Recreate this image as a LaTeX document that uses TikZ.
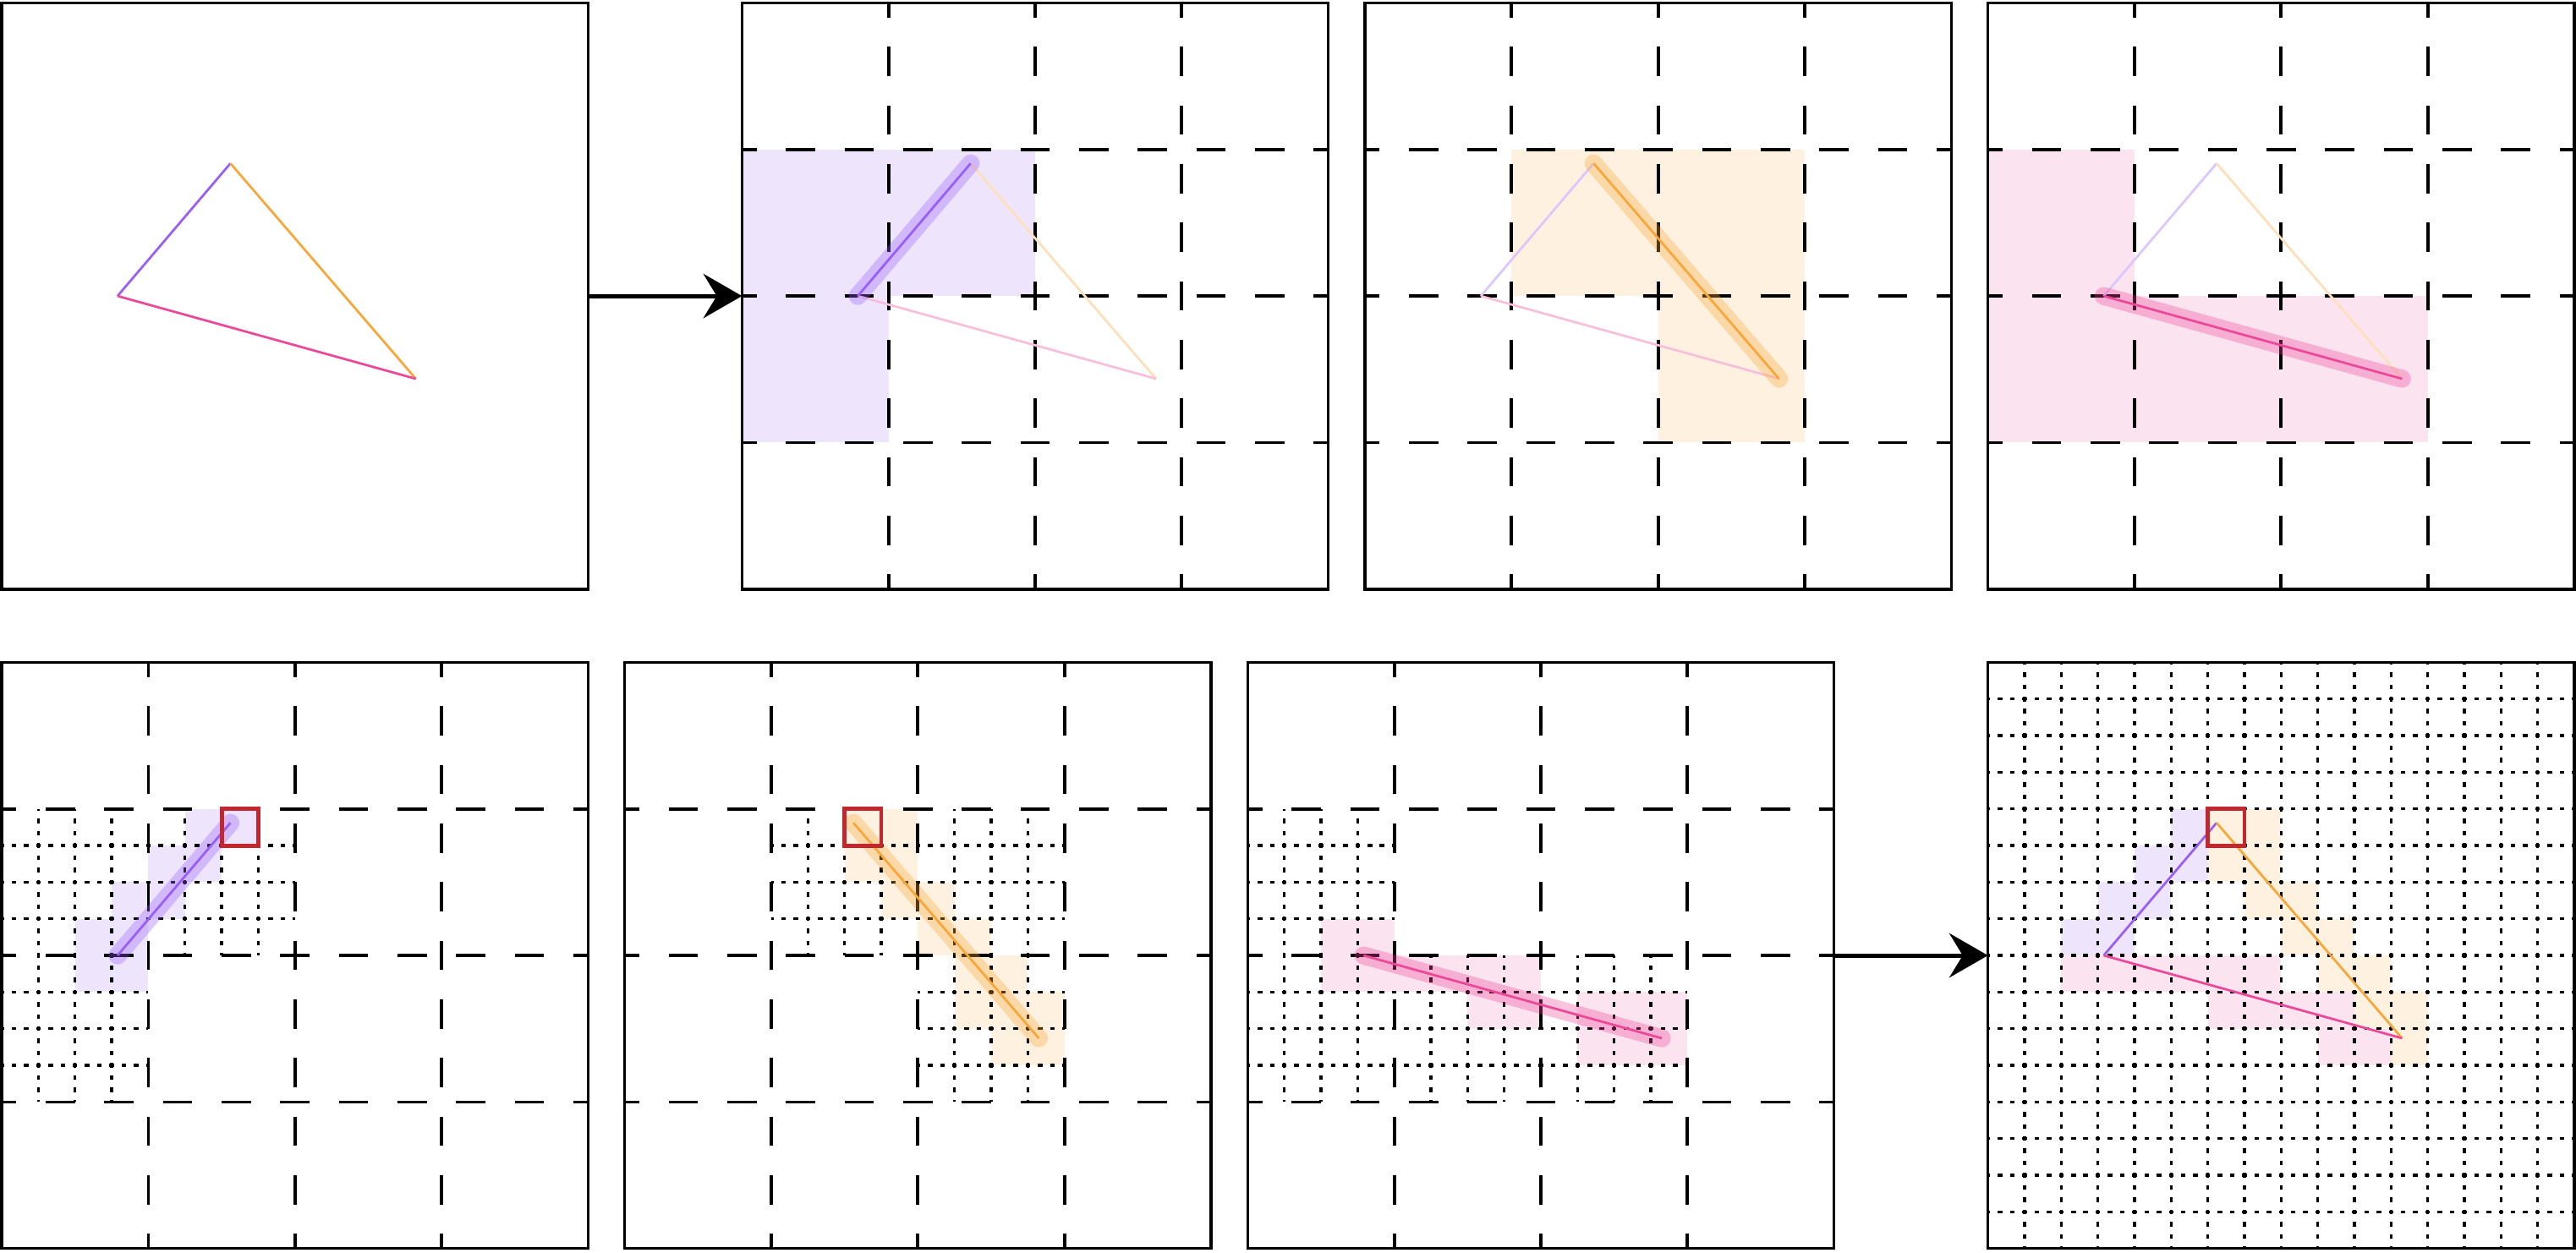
\documentclass[tikz,border=0pt]{standalone}
\usetikzlibrary{arrows.meta}
\definecolor{violetab}{HTML}{985EF5}
\definecolor{amberbc}{HTML}{F7A73A}
\definecolor{pinkca}{HTML}{EC4899}
\definecolor{redmark}{HTML}{C4262E}
\newcommand{\setcorners}{\coordinate (a) at (0.79,2); \coordinate (b) at (1.56,2.905); \coordinate (c) at (2.825,1.435);}
\begin{document}
\begin{tikzpicture}[
  coarse/.style={line width=0.62pt, dash pattern=on 0.2cm off 0.2cm, dash phase=0.1cm},
  fine/.style={line width=0.55pt, dash pattern=on 0.9pt off 1.471pt, dash phase=0.45pt},
  panel/.style={draw, line width=0.58pt, minimum size=4cm, inner sep=0pt, outer sep=0pt, anchor=south west},
  halo/.style={line width=3.5pt, line cap=round, opacity=0.33},
  edge/.style={line width=0.45pt},
  redbox/.style={draw=redmark, line width=0.8pt},
  flow/.style={line width=0.8pt, -{Stealth[length=7.5pt, width=8.6pt, inset=2.6pt]}}
]
\useasboundingbox (-0.012,-0.025) rectangle (17.562,8.52);

% top row
\begin{scope}[shift={(0,4.5)}]
  \setcorners
  \draw[edge, violetab] (a) -- (b);
  \draw[edge, amberbc] (b) -- (c);
  \draw[edge, pinkca] (c) -- (a);
\end{scope}

\begin{scope}[shift={(5.05,4.5)}]
  \setcorners
  \foreach \i/\j in {0/1,1/1,0/2}
    \fill[violetab!16] (\i,3-\j) rectangle ++(1,1);
  \foreach \k in {1,2,3}
   {\draw[coarse] (\k,0) -- (\k,4);
    \draw[coarse] (0,\k) -- (4,\k);
   };
  \draw[edge, amberbc!35] (b) -- (c);
  \draw[edge, pinkca!35] (c) -- (a);
  \draw[halo, violetab] (a) -- (b);
  \draw[edge, violetab] (a) -- (b);
\end{scope}

\begin{scope}[shift={(9.3,4.5)}]
  \setcorners
  \foreach \i/\j in {1/1,2/1,2/2}
    \fill[amberbc!16] (\i,3-\j) rectangle ++(1,1);
  \foreach \k in {1,2,3}
   {\draw[coarse] (\k,0) -- (\k,4);
    \draw[coarse] (0,\k) -- (4,\k);
   };
  \draw[edge, violetab!35] (a) -- (b);
  \draw[edge, pinkca!35] (c) -- (a);
  \draw[halo, amberbc] (b) -- (c);
  \draw[edge, amberbc] (b) -- (c);
\end{scope}

\begin{scope}[shift={(13.55,4.5)}]
  \setcorners
  \foreach \i/\j in {0/1,0/2,1/2,2/2}
    \fill[pinkca!15] (\i,3-\j) rectangle ++(1,1);
  \foreach \k in {1,2,3}
   {\draw[coarse] (\k,0) -- (\k,4);
    \draw[coarse] (0,\k) -- (4,\k);
   };
  \draw[edge, violetab!35] (a) -- (b);
  \draw[edge, amberbc!35] (b) -- (c);
  \draw[halo, pinkca] (a) -- (c);
  \draw[edge, pinkca] (a) -- (c);
\end{scope}

% bottom row
\begin{scope}[shift={(0,0)}]
  \setcorners
  \foreach \i/\j in {5/4,6/4,4/5,5/5,3/6,4/6,2/7,3/7,2/8,3/8}
    \fill[violetab!16] (\i/4,3.75-\j/4) rectangle ++(0.25,0.25);
  \foreach \k in {1,2,3}
   {\draw[coarse] (\k,0) -- (\k,4);
    \draw[coarse] (0,\k) -- (4,\k);
   };
  \foreach \i/\j in {0/1,1/1,0/2}
   {\foreach \k in {0.25,0.5,0.75}
     {\draw[fine] (\i+\k,3-\j) -- ++(0,1);
      \draw[fine] (\i,3-\j+\k) -- ++(1,0);
     }};
  \draw[halo, violetab] (a) -- (b);
  \draw[edge, violetab] (a) -- (b);
  \draw[redbox] (1.5,2.75) rectangle (1.75,3);
\end{scope}

\begin{scope}[shift={(4.25,0)}]
  \setcorners
  \foreach \i/\j in {6/4,7/4,6/5,7/5,7/6,8/6,8/7,9/7,9/8,10/8,9/9,10/9,11/9,10/10,11/10}
    \fill[amberbc!16] (\i/4,3.75-\j/4) rectangle ++(0.25,0.25);
  \foreach \k in {1,2,3}
   {\draw[coarse] (\k,0) -- (\k,4);
    \draw[coarse] (0,\k) -- (4,\k);
   };
  \foreach \i/\j in {1/1,2/1,2/2}
   {\foreach \k in {0.25,0.5,0.75}
     {\draw[fine] (\i+\k,3-\j) -- ++(0,1);
      \draw[fine] (\i,3-\j+\k) -- ++(1,0);
     }};
  \draw[halo, amberbc] (b) -- (c);
  \draw[edge, amberbc] (b) -- (c);
  \draw[redbox] (1.5,2.75) rectangle (1.75,3);
\end{scope}

\begin{scope}[shift={(8.5,0)}]
  \setcorners
  \foreach \i/\j in {2/7,3/7,2/8,3/8,4/8,5/8,6/8,7/8,6/9,7/9,9/9,10/9,11/9,9/10,10/10,11/10}
    \fill[pinkca!15] (\i/4,3.75-\j/4) rectangle ++(0.25,0.25);
  \foreach \k in {1,2,3}
   {\draw[coarse] (\k,0) -- (\k,4);
    \draw[coarse] (0,\k) -- (4,\k);
   };
  \foreach \i/\j in {0/1,0/2,1/2,2/2}
   {\foreach \k in {0.25,0.5,0.75}
     {\draw[fine] (\i+\k,3-\j) -- ++(0,1);
      \draw[fine] (\i,3-\j+\k) -- ++(1,0);
     }};
  \draw[halo, pinkca] (a) -- (c);
  \draw[edge, pinkca] (a) -- (c);
\end{scope}

\begin{scope}[shift={(13.55,0)}]
  \setcorners
  \foreach \i/\j in {5/4,4/5,5/5,3/6,4/6,2/7,3/7}
    \fill[violetab!16] (\i/4,3.75-\j/4) rectangle ++(0.25,0.25);
  \foreach \i/\j in {6/4,7/4,6/5,7/5,7/6,8/6,8/7,9/7,9/8,10/8,10/9,11/9,11/10}
    \fill[amberbc!16] (\i/4,3.75-\j/4) rectangle ++(0.25,0.25);
  \foreach \i/\j in {2/8,3/8,4/8,5/8,6/8,7/8,6/9,7/9,8/9,9/9,9/10,10/10}
    \fill[pinkca!15] (\i/4,3.75-\j/4) rectangle ++(0.25,0.25);
  \foreach \k in {1,...,15}
   {\draw[fine] (\k/4,0) -- (\k/4,4);
    \draw[fine] (0,\k/4) -- (4,\k/4);
   };
  \draw[edge, violetab] (a) -- (b);
  \draw[edge, amberbc] (b) -- (c);
  \draw[edge, pinkca] (c) -- (a);
  \draw[redbox] (1.5,2.75) rectangle (1.75,3);
\end{scope}

% frames and arrows
\foreach \name/\x/\y in {top1/0/4.5, top2/5.05/4.5, top3/9.3/4.5, top4/13.55/4.5, bot1/0/0, bot2/4.25/0, bot3/8.5/0, bot4/13.55/0}
  \node[panel] (\name) at (\x,\y) {};
\draw[flow] (top1) -- (top2);
\draw[flow] (bot3) -- (bot4);
\end{tikzpicture}
\end{document}
